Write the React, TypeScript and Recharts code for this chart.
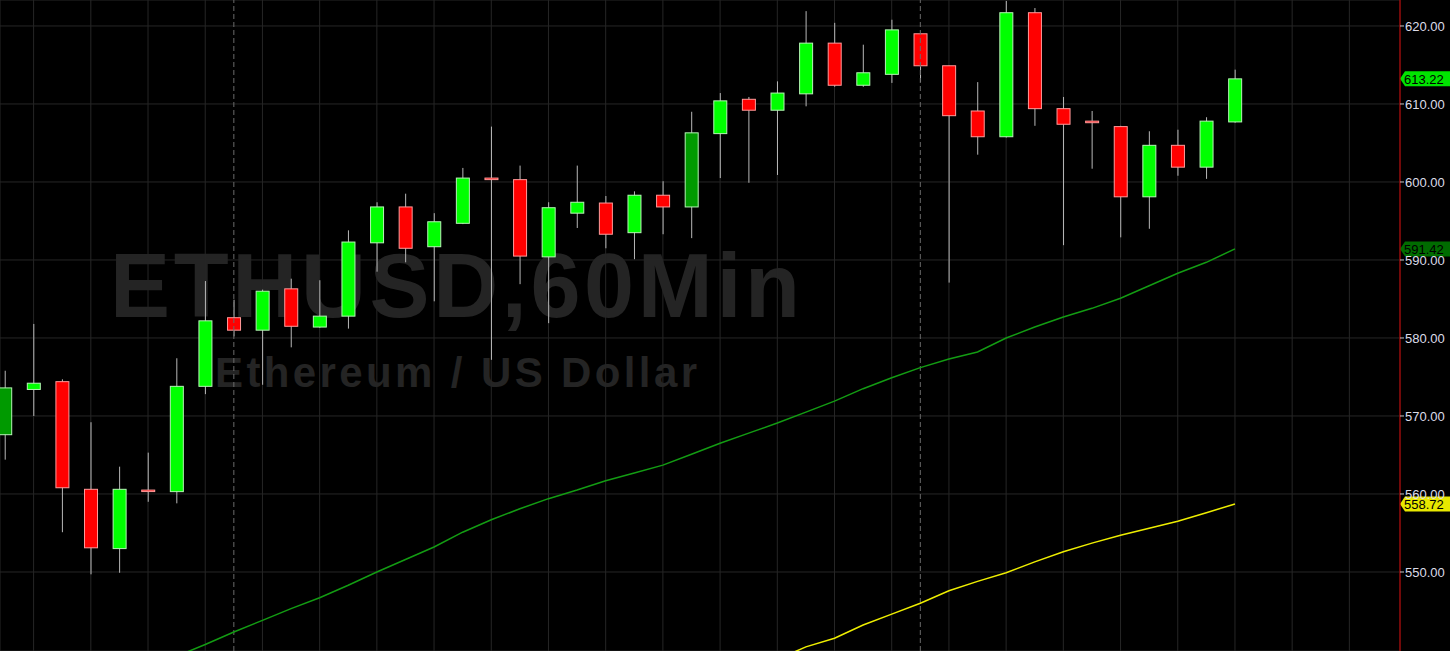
import { ComposedChart, Bar, Line, XAxis, YAxis, CartesianGrid, ReferenceLine } from "recharts";

// hourly candles, oldest first
const opens = [
  567.6, 573.4, 574.4, 560.6, 553.0, 560.5, 560.3, 573.8, 582.6, 581.0, 586.3, 581.4, 582.8, 592.2, 596.8,
  591.7, 594.7, 600.5, 600.3, 590.4, 596.0, 597.3, 593.5, 598.3, 596.8, 606.2, 610.6, 609.2, 611.3, 617.8,
  612.4, 613.8, 619.0, 614.9, 609.1, 605.8, 621.7, 609.4, 607.8, 607.1, 598.1, 604.7, 601.9, 607.7,
];
const highs = [
  575.8, 581.8, 574.7, 569.2, 563.5, 565.3, 577.4, 587.3, 584.9, 586.2, 587.6, 587.4, 593.8, 597.4, 598.5,
  596.0, 601.8, 607.1, 602.1, 597.4, 602.1, 598.2, 598.8, 600.1, 609.0, 611.4, 610.9, 612.9, 621.9, 620.4,
  617.6, 620.8, 619.1, 614.9, 612.8, 623.2, 622.3, 610.9, 609.1, 607.2, 606.5, 606.7, 608.3, 614.4,
];
const lows = [
  564.4, 570.0, 555.1, 549.7, 549.9, 559.0, 558.8, 572.8, 580.2, 574.0, 578.8, 581.3, 581.2, 588.5, 589.7,
  584.7, 594.6, 577.2, 586.9, 581.9, 594.1, 591.5, 590.1, 593.3, 592.8, 600.5, 599.9, 600.9, 609.7, 612.2,
  612.2, 612.7, 612.8, 587.1, 603.5, 605.7, 607.2, 591.9, 601.7, 592.9, 594.0, 600.8, 600.4, 607.6,
];
const closes = [
  573.6, 574.2, 560.8, 553.1, 560.6, 560.4, 573.8, 582.2, 581.0, 586.0, 581.5, 582.8, 592.3, 596.8, 591.5,
  594.9, 600.5, 600.3, 590.5, 596.7, 597.4, 593.3, 598.3, 596.8, 606.3, 610.4, 609.2, 611.4, 617.8, 612.4,
  614.0, 619.5, 614.9, 608.5, 605.8, 621.7, 609.4, 607.4, 607.6, 598.1, 604.7, 601.9, 607.8, 613.22,
];
// candles painted in the darker green
const strongCandles = [0, 24];

// moving averages, each starting at the given candle index
const maFastStart = 6;
const maFast = [
  539.2, 540.7, 542.3, 543.8, 545.3, 546.7, 548.3, 550.0, 551.6, 553.2, 555.1, 556.7, 558.1, 559.4, 560.5,
  561.7, 562.7, 563.7, 565.1, 566.5, 567.8, 569.1, 570.5, 571.9, 573.5, 574.9, 576.2, 577.3, 578.2, 580.0,
  581.4, 582.7, 583.8, 585.1, 586.7, 588.3, 589.7, 591.42,
];
const maSlowStart = 27;
const maSlow = [
  538.8, 540.4, 541.5, 543.2, 544.6, 546.0, 547.6, 548.8, 549.9, 551.3, 552.6, 553.7, 554.7, 555.6, 556.5,
  557.6, 558.72,
];

const sessionBreaks = [8, 32];
const priceTicks = [550, 560, 570, 580, 590, 600, 610, 620];
const timeGrid = [1, 3, 5, 7, 9, 11, 13, 15, 17, 19, 21, 23, 25, 27, 29, 31, 33, 35, 37, 39, 41, 43, 45, 47];

const data = opens.map((open, i) => ({
  i,
  open,
  high: highs[i],
  low: lows[i],
  close: closes[i],
  range: [lows[i], highs[i]],
  strong: strongCandles.includes(i),
  maFast: i >= maFastStart ? maFast[i - maFastStart] : null,
  maSlow: i >= maSlowStart ? maSlow[i - maSlowStart] : null,
}));

const FONT = "'Liberation Sans', Arial, sans-serif";

const Candle = (props: any) => {
  const { x, y, width, height, payload } = props;
  if (x == null || y == null || !payload) return null;
  const { open, close, high, low, strong } = payload;
  const h = Math.abs(height);
  const top = Math.min(y, y + height);
  const k = h / (high - low);
  const yOf = (v: number) => top + (high - v) * k;
  const cx = x + width / 2;
  const up = close >= open;
  const bodyTop = yOf(Math.max(open, close));
  const bodyBottom = yOf(Math.min(open, close));
  const fill = up ? (strong ? "#009a00" : "#00ff00") : "#ff0000";
  const stroke = up ? "#b4f5b4" : "#ff9a9a";
  return (
    <g>
      <line x1={cx} x2={cx} y1={top} y2={top + h} stroke="#b8b8b8" strokeWidth={1} />
      <rect
        x={x}
        y={bodyTop}
        width={width}
        height={Math.max(bodyBottom - bodyTop, 1.5)}
        fill={fill}
        stroke={stroke}
        strokeWidth={1}
      />
    </g>
  );
};

const PriceTag = ({ viewBox, value, fill }: any) => {
  if (!viewBox) return null;
  const x = viewBox.x + viewBox.width;
  const y = viewBox.y;
  return (
    <g>
      <path d={`M${x},${y} L${x + 5},${y - 7.5} L${x + 50},${y - 7.5} L${x + 50},${y + 7.5} L${x + 5},${y + 7.5} Z`} fill={fill} />
      <text x={x + 4} y={y} dy="0.36em" fontSize={13} fontFamily={FONT} fill="#000">
        {value.toFixed(2)}
      </text>
    </g>
  );
};

export default function App() {
  const last = data[data.length - 1];
  return (
    <div style={{ position: "absolute", left: 0, top: 0, width: 1450, height: 651, background: "#000", overflow: "hidden" }}>
      <svg width={1400} height={651} style={{ position: "absolute", left: 0, top: 0 }}>
        <text x={110} y={317} fontSize={90} fontWeight="bold" fontFamily={FONT} fill="#242424" textLength={690} lengthAdjust="spacing">
          ETHUSD,60Min
        </text>
        <text x={215} y={387} fontSize={42} fontWeight="bold" fontFamily={FONT} fill="#242424" textLength={482} lengthAdjust="spacing">
          Ethereum / US Dollar
        </text>
      </svg>
      <div style={{ position: "absolute", left: 0, top: 0 }}>
        <ComposedChart width={1450} height={651} data={data} margin={{ top: 0, right: 0, bottom: 0, left: 0 }}>
          <CartesianGrid stroke="#262626" strokeWidth={1} />
          <XAxis type="number" dataKey="i" domain={[-0.175, 48.77]} ticks={timeGrid} allowDataOverflow hide />
          <YAxis
            orientation="right"
            width={50}
            domain={[539.87, 623.33]}
            ticks={priceTicks}
            allowDataOverflow
            interval={0}
            axisLine={{ stroke: "#d00000" }}
            tickLine={{ stroke: "#c8c8c8" }}
            tickSize={4}
            tickMargin={1}
            tick={{ fill: "#dcdce8", fontSize: 13, fontFamily: FONT }}
            tickFormatter={(v: number) => v.toFixed(2)}
          />
          {sessionBreaks.map((b) => (
            <ReferenceLine key={b} x={b} stroke="#6a6a6a" strokeDasharray="5 3" />
          ))}
          <Bar dataKey="range" barSize={13} shape={<Candle />} isAnimationActive={false} />
          <Line type="linear" dataKey="maFast" stroke="#139c13" strokeWidth={1.5} dot={false} isAnimationActive={false} />
          <Line type="linear" dataKey="maSlow" stroke="#eeee00" strokeWidth={1.5} dot={false} isAnimationActive={false} />
          <ReferenceLine
            y={last.close}
            stroke="none"
            label={(p: any) => <PriceTag viewBox={p.viewBox} value={last.close} fill="#00e400" />}
          />
          <ReferenceLine
            y={last.maFast as number}
            stroke="none"
            label={(p: any) => <PriceTag viewBox={p.viewBox} value={last.maFast} fill="#006c00" />}
          />
          <ReferenceLine
            y={last.maSlow as number}
            stroke="none"
            label={(p: any) => <PriceTag viewBox={p.viewBox} value={last.maSlow} fill="#e8e800" />}
          />
        </ComposedChart>
      </div>
    </div>
  );
}
